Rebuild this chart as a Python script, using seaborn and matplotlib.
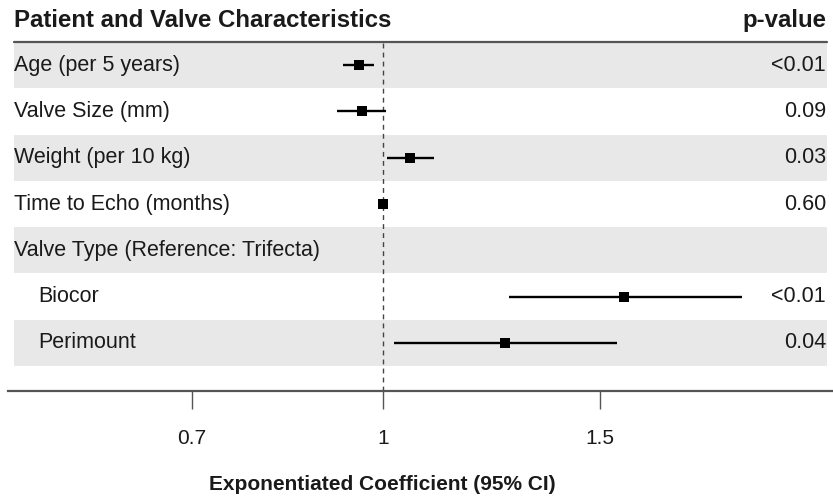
import matplotlib
matplotlib.use("Agg")
import matplotlib.pyplot as plt
import matplotlib.transforms as mtransforms
from matplotlib.ticker import NullLocator, FixedLocator, FixedFormatter
import seaborn as sns
import pandas as pd
import numpy as np

# ---- data ----
labels = ["Age (per 5 years)", "Valve Size (mm)", "Weight (per 10 kg)",
          "Time to Echo (months)", "Valve Type (Reference: Trifecta)",
          "Biocor", "Perimount"]
indent = [False, False, False, False, False, True, True]
estimate = [0.956, 0.962, 1.052, 1.000, np.nan, 1.569, 1.256]
ci_low = [0.928, 0.918, 1.008, 0.998, np.nan, 1.266, 1.021]
ci_high = [0.983, 1.006, 1.100, 1.002, np.nan, 1.956, 1.549]
p_values = ["<0.01", "0.09", "0.03", "0.60", "", "<0.01", "0.04"]
tick_values = [0.7, 1, 1.5]
tick_labels = ["0.7", "1", "1.5"]

sns.set_theme(style="white")
plt.rcParams["font.family"] = ["Liberation Sans", "DejaVu Sans"]

W, H = 833, 499
fig = plt.figure(figsize=(W / 100, H / 100), dpi=100)
ax_left, ax_right, ax_top, ax_bottom = 8, 833, 42, 391
ax = fig.add_axes([ax_left / W, 1 - ax_bottom / H, (ax_right - ax_left) / W,
                   (ax_bottom - ax_top) / H])

df = pd.DataFrame({"label": labels, "row": np.arange(len(labels)),
                   "est": estimate, "lo": ci_low, "hi": ci_high})

ax.set_xscale("log")
x_left = np.exp((ax_left - 383) / 535)
x_right = np.exp((ax_right - 383) / 535)
ax.set_xlim(x_left, x_right)
nrows = len(labels)
ax.set_ylim(7.04, -0.5)

def px_to_axfrac(px):
    return (px - ax_left) / (ax_right - ax_left)

xs0, xs1 = px_to_axfrac(14), px_to_axfrac(827)
text_color = "#1a1a1a"
for i in range(nrows):
    if i % 2 == 0:
        ax.axhspan(i - 0.5, i + 0.5, xmin=xs0, xmax=xs1, color="#e8e8e8",
                   lw=0, zorder=0)

# top rule
ax.plot([xs0, xs1], [1, 1], transform=ax.transAxes, color="#555555", lw=1.6,
        clip_on=False, zorder=3)

# reference line
ax.axvline(1, color="#444444", lw=1.0, ls=(0, (3.5, 3)), zorder=1)

# CIs
d = df.dropna()
ax.hlines(d["row"], d["lo"], d["hi"], color="black", lw=1.7, zorder=2)
sns.scatterplot(data=d, x="est", y="row", marker="s", s=62, color="black",
                edgecolor="black", linewidth=0, ax=ax, zorder=3, legend=False)

# labels & p-values
blend = mtransforms.blended_transform_factory(ax.transAxes, ax.transData)
for i, (lab, ind, p) in enumerate(zip(labels, indent, p_values)):
    xpx = 38 if ind else 14
    ax.text(px_to_axfrac(xpx), i, lab, transform=blend, ha="left", va="center",
            fontsize=15.5, color=text_color)
    if p:
        ax.text(px_to_axfrac(826), i, p, transform=blend, ha="right",
                va="center", fontsize=15.5, color=text_color)

fig.text(14 / W, 1 - 20.5 / H, "Patient and Valve Characteristics",
         ha="left", va="center", fontsize=17.3, fontweight="bold",
         color=text_color)
fig.text(826 / W, 1 - 20.5 / H, "p-value", ha="right", va="center",
         fontsize=17.3, fontweight="bold", color=text_color)

# axes styling
for s in ["top", "right", "left"]:
    ax.spines[s].set_visible(False)
ax.spines["bottom"].set_color("#555555")
ax.spines["bottom"].set_linewidth(1.6)
ax.set_yticks([])
ax.xaxis.set_major_locator(FixedLocator(tick_values))
ax.xaxis.set_major_formatter(FixedFormatter(tick_labels))
ax.xaxis.set_minor_locator(NullLocator())
ax.tick_params(axis="x", bottom=True, length=13, width=1.0, color="#555555",
               pad=14, labelsize=15, labelcolor=text_color)
ax.set_xlabel("")
ax.set_ylabel("")

fig.text(382 / W, 1 - 484 / H, "Exponentiated Coefficient (95% CI)",
         ha="center", va="center", fontsize=15, fontweight="bold",
         color=text_color)

fig.savefig("out.png", dpi=100)
